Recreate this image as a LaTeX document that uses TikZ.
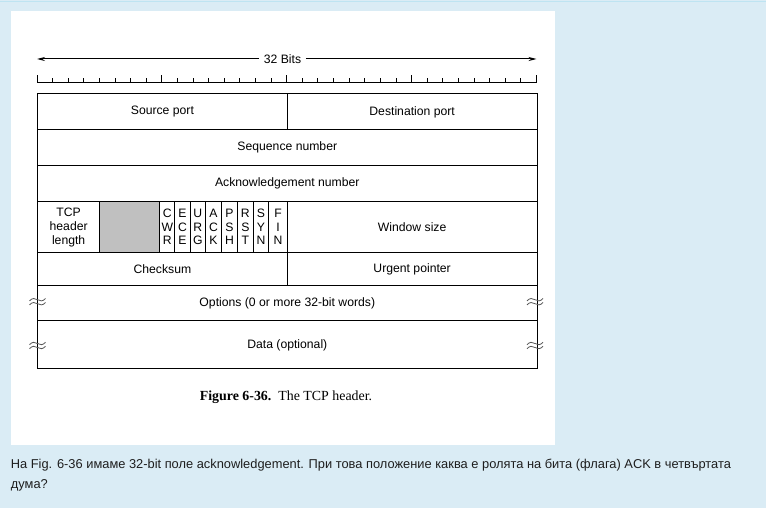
\documentclass[tikz,border=0pt]{standalone}
\usepackage{fontspec}
\setmainfont{Liberation Sans}
\newfontfamily\capfont{Liberation Serif}
\usetikzlibrary{arrows.meta}
\definecolor{pagebg}{RGB}{218,236,245}
\definecolor{pageline}{RGB}{190,228,242}
\definecolor{cellgray}{RGB}{192,192,192}
\definecolor{markgray}{RGB}{85,85,85}
\definecolor{bodytext}{RGB}{30,30,30}
\tikzset{
  rule/.style={line width=1.1pt, black},
  cell/.style={draw, line width=1.1pt, anchor=north west, inner sep=0pt,
     align=center, font=\fontsize{12.2}{14}\selectfont},
  flagcell/.style={cell, font=\fontsize{12.2}{13.5}\selectfont},
  brk/.pic={\draw[markgray, line width=0.8pt]
     (-8,1.2) sin (-4,-1.2) cos (0,0) sin (4,1.2) cos (8,-1.2);},
}
\begin{document}
\begin{tikzpicture}[x=1pt,y=-1pt]
\useasboundingbox (0,0) rectangle (766,508);
\fill[pagebg] (0,0) rectangle (766,508);
\draw[pageline, line width=1pt] (0,2) -- (766,2);
\fill[white] (11,11) rectangle (555,445);

% 32 bits arrow
\coordinate (al) at (37,59);
\coordinate (ar) at (536.5,59);
\node[font=\fontsize{12.2}{14}\selectfont, inner xsep=4.5pt, inner ysep=1pt] (bits) at (282.5,59) {32 Bits};
\draw[line width=1pt, -{Stealth[length=8pt,width=4pt]}] (bits.west) -- (al);
\draw[line width=1pt, -{Stealth[length=8pt,width=4pt]}] (bits.east) -- (ar);

% ruler
\draw[line width=1pt] (37,82.3) -- (536.5,82.3);
\foreach \i in {0,...,32}{
  \pgfmathsetmacro{\xx}{37+\i*15.609}
  \pgfmathsetmacro{\hh}{mod(\i,8)==0 ? 7.5 : 4.6}
  \draw[line width=1pt] (\xx,82.3) -- (\xx,82.3-\hh);
}

% rows
\node[cell, minimum width=249.7pt, minimum height=36pt] (src) at (37,93.3) {Source port};
\node[cell, minimum width=249.8pt, minimum height=36pt] (dst) at (286.7,93.3) {Destination port};
\node[cell, minimum width=499.5pt, minimum height=35.9pt] (seq) at (37,129.3) {Sequence number};
\node[cell, minimum width=499.5pt, minimum height=36.1pt] (ack) at (37,165.2) {Acknowledgement number};

\node[cell, minimum width=62.2pt, minimum height=50.4pt] (hlen) at (37,201.3) {TCP\\header\\length};
\node[cell, fill=cellgray, minimum width=60pt, minimum height=50.4pt] (resv) at (99.2,201.3) {};
\node[flagcell, minimum width=15.1pt, minimum height=50.4pt] (cwr) at (159.2,201.3) {C\\W\\R};
\node[flagcell, minimum width=15.2pt, minimum height=50.4pt] (ece) at (174.3,201.3) {E\\C\\E};
\node[flagcell, minimum width=15.5pt, minimum height=50.4pt] (urg) at (189.5,201.3) {U\\R\\G};
\node[flagcell, minimum width=16pt, minimum height=50.4pt] (ackf) at (205,201.3) {A\\C\\K};
\node[flagcell, minimum width=16pt, minimum height=50.4pt] (psh) at (221,201.3) {P\\S\\H};
\node[flagcell, minimum width=15.7pt, minimum height=50.4pt] (rst) at (237,201.3) {R\\S\\T};
\node[flagcell, minimum width=15.6pt, minimum height=50.4pt] (syn) at (252.7,201.3) {S\\Y\\N};
\node[flagcell, minimum width=18.4pt, minimum height=50.4pt] (fin) at (268.3,201.3) {F\\I\\N};
\node[cell, minimum width=249.8pt, minimum height=50.4pt] (win) at (286.7,201.3) {Window size};

\node[cell, minimum width=249.7pt, minimum height=33.6pt] (chk) at (37,251.7) {Checksum};
\node[cell, minimum width=249.8pt, minimum height=33.6pt] (urgp) at (286.7,251.7) {Urgent pointer};
\node[cell, minimum width=499.5pt, minimum height=35pt] (opt) at (37,285.3) {Options (0 or more 32-bit words)};
\node[cell, minimum width=499.5pt, minimum height=48pt] (data) at (37,320.3) {Data (optional)};

% break marks
\foreach \yy in {299.7,303.7,343.5,347.5}{
  \pic at (37.5,\yy) {brk};
  \pic at (535,\yy) {brk};
}

% caption
\node[font=\capfont\fontsize{13.9}{16}\selectfont] (cap) at (286,397) {\textbf{Figure 6-36.}\ \ The TCP header.};

% question text
\node[anchor=base west, inner sep=0pt, text=bodytext, font=\fontsize{12.85}{20}\selectfont] (q1) at (10.7,468)
  {На Fig. 6-36 имаме 32-bit поле acknowledgement. При това положение каква е ролята на бита (флага) ACK в четвъртата};
\node[anchor=base west, inner sep=0pt, text=bodytext, font=\fontsize{12.85}{20}\selectfont] (q2) at (10.7,488) {дума?};
\end{tikzpicture}
\end{document}
